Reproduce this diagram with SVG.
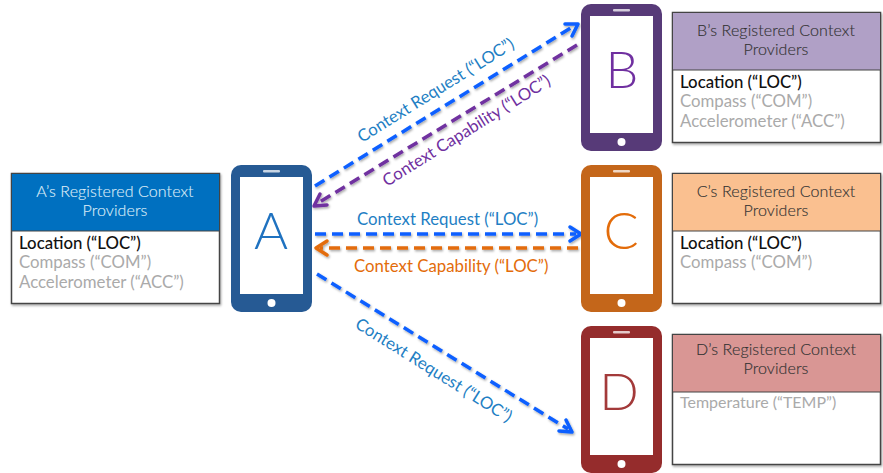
<svg xmlns="http://www.w3.org/2000/svg" width="883" height="473" viewBox="0 0 883 473">
<style>
.t{font-family:"Lato","Open Sans",sans-serif;font-size:16.800px}
.h{text-anchor:middle;fill:#333;font-size:16px;font-weight:300;letter-spacing:.1px;stroke:#333;stroke-width:.15}
.k{fill:#111;font-weight:500}
.g{fill:#aaa}
.box{fill:#fff;stroke:#444;stroke-width:1.5}
.l{font-family:"Lato","Open Sans",sans-serif;font-size:16.800px}
.letter{font-family:"Lato","Open Sans",sans-serif;font-size:52px;font-weight:300;text-anchor:middle}
.c{fill:none;stroke-width:3.5;stroke-dasharray:11 6}
.a{fill:none;stroke-width:3.5;stroke-linecap:round;stroke-linejoin:round}
.blue{stroke:#0a5fff}.pur{stroke:#7030a0}.or{stroke:#e36c0a}
</style>
<defs>
<filter id="s" x="-20%" y="-20%" width="140%" height="140%"><feDropShadow dx="1" dy="1.5" stdDeviation="1" flood-color="#000" flood-opacity=".35"/></filter>
<g id="phone"><rect x="0" y="0" width="81" height="147" rx="10"/><rect x="9" y="12" width="63" height="117" fill="#fff"/><rect x="32" y="5" width="17" height="2.5" rx="1" fill="#fff" opacity=".75"/><circle cx="40.500" cy="138" r="4" fill="#fff"/></g>
</defs>
<g id="connectors">
<g filter="url(#s)">
<path class="c blue" d="M315 186L574 26"/><path class="a blue" d="M565 24L578 24L572 36"/>
<path class="c pur" d="M577 45L318 203"/><path class="a pur" d="M327 205L314 206L320 194"/>
<path class="c blue" d="M315 234L576 234"/><path class="a blue" d="M570 227L581 234L570 241"/>
<path class="c or" d="M578 248L320 248"/><path class="a or" d="M327 241L316 248L327 255"/>
<path class="c blue" d="M317 274L568 429"/><path class="a blue" d="M559 431L572 432L566 420"/>
</g>
</g>
<text class="l" fill="#1f7fc4" transform="translate(362 143) rotate(-32)">Context Request (“LOC”)</text>
<text class="l" fill="#7030a0" transform="translate(387 187) rotate(-32)">Context Capability (“LOC”)</text>
<text class="l" fill="#1f7fc4" x="357" y="225">Context Request (“LOC”)</text>
<text class="l" fill="#e36c0a" x="354" y="272">Context Capability (“LOC”)</text>
<text class="l" fill="#1f7fc4" transform="translate(354 327) rotate(32)">Context Request (“LOC”)</text>
<g id="phoneA" fill="#265a94"><use href="#phone" x="231" y="165"/><text class="letter" x="271" y="249" fill="#1f72c0">A</text></g>
<g id="phoneB" fill="#573a78"><use href="#phone" x="581" y="4"/><text class="letter" x="622" y="88" fill="#7030a0">B</text></g>
<g id="phoneC" fill="#c4661a"><use href="#phone" x="581" y="165"/><text class="letter" x="621" y="249" fill="#e36c0a">C</text></g>
<g id="phoneD" fill="#952c2c"><use href="#phone" x="581" y="326"/><text class="letter" x="619" y="410" fill="#a33a3a">D</text></g>
<g id="boxA"><rect class="box" x="11.500" y="173.500" width="208" height="130" filter="url(#s)"/><rect x="11.500" y="173.500" width="208" height="57.500" fill="#0070c0" stroke="#444"/>
<text class="t h" x="115" y="197" style="fill:#dcebf7;stroke:#dcebf7">A’s Registered Context</text><text class="t h" x="115" y="216" style="fill:#dcebf7;stroke:#dcebf7">Providers</text>
<text class="t k" x="19" y="249">Location (“LOC”)</text><text class="t g" x="19" y="268">Compass (“COM”)</text><text class="t g" x="19" y="288">Accelerometer (“ACC”)</text></g>
<g id="boxB"><rect class="box" x="672.500" y="12.500" width="208" height="130" filter="url(#s)"/><rect x="672.500" y="12.500" width="208" height="57.500" fill="#b0a0c6" stroke="#444"/>
<text class="t h" x="776" y="36">B’s Registered Context</text><text class="t h" x="776" y="55">Providers</text>
<text class="t k" x="680" y="88">Location (“LOC”)</text><text class="t g" x="680" y="107">Compass (“COM”)</text><text class="t g" x="680" y="127">Accelerometer (“ACC”)</text></g>
<g id="boxC"><rect class="box" x="672.500" y="173.500" width="208" height="130" filter="url(#s)"/><rect x="672.500" y="173.500" width="208" height="57.500" fill="#fac090" stroke="#444"/>
<text class="t h" x="776" y="197">C’s Registered Context</text><text class="t h" x="776" y="216">Providers</text>
<text class="t k" x="680" y="249">Location (“LOC”)</text><text class="t g" x="680" y="268">Compass (“COM”)</text></g>
<g id="boxD"><rect class="box" x="672.500" y="334.500" width="208" height="130" filter="url(#s)"/><rect x="672.500" y="334.500" width="208" height="57.500" fill="#d99694" stroke="#444"/>
<text class="t h" x="776" y="355">D’s Registered Context</text><text class="t h" x="776" y="374">Providers</text>
<text class="t g" x="680" y="408" style="font-size:16px">Temperature (“TEMP”)</text></g>
</svg>
